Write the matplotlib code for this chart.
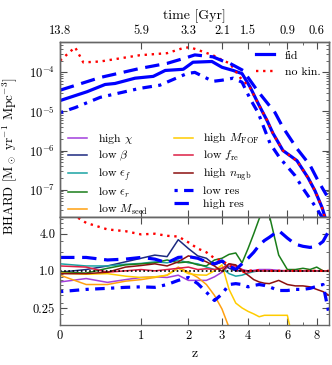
import numpy as np
import matplotlib
matplotlib.use("Agg")
import matplotlib.pyplot as plt
from matplotlib.ticker import FixedLocator, FixedFormatter, NullFormatter

plt.rcParams['font.family'] = 'serif'
plt.rcParams['font.serif'] = ['cmr10']
plt.rcParams['mathtext.fontset'] = 'cm'
plt.rcParams['axes.formatter.use_mathtext'] = True
plt.rcParams['axes.unicode_minus'] = False

# --- top panel: black hole accretion rate density [Msun/yr/Mpc^3] ---
z_fid = [0, 0.26, 0.47, 0.6, 0.9, 1.22, 1.46, 1.87, 2.12, 2.67, 3.0, 3.4, 3.75,
         4.09, 4.45, 4.88, 5.19, 5.74, 6.6, 7.36, 7.87, 8.42, 8.7]
bhard_fid = [1.9e-5, 3.2e-5, 4.9e-5, 5.2e-5, 7.1e-5, 7.9e-5, 1.12e-4, 1.2e-4, 1.82e-4,
             1.9e-4, 1.35e-4, 1.12e-4, 9.3e-5, 4.2e-5, 1.6e-5, 5.9e-6, 2.75e-6, 1.0e-6,
             5.5e-7, 2.0e-7, 9.3e-8, 3.5e-8, 1.8e-8]

z_nokin = [0, 0.137, 0.22, 0.41, 0.98, 1.5, 1.87, 2.04, 2.31, 2.7, 3.04, 3.28, 3.67,
           4.09, 4.45, 4.88, 5.19, 5.74, 6.6, 7.36, 7.87, 8.42, 8.7]
bhard_nokin = [2.0e-4, 4.4e-4, 1.8e-4, 1.9e-4, 2.75e-4, 3.1e-4, 4.2e-4, 4.4e-4, 3.6e-4,
               2.75e-4, 2.0e-4, 1.7e-4, 7.4e-5, 4.0e-5, 1.6e-5, 6.0e-6, 2.7e-6, 1.0e-6,
               5.4e-7, 2.0e-7, 9.3e-8, 3.4e-8, 1.7e-8]

z_lowres = [0, 0.14, 0.41, 0.98, 1.35, 1.96, 2.17, 2.7, 3.0, 3.4, 3.75, 4.09, 4.45,
            5.04, 5.58, 6.47, 7.0, 7.6, 8.1, 8.6]
bhard_lowres = [9.3e-6, 1.26e-5, 2.3e-5, 3.9e-5, 4.7e-5, 9.3e-5, 1.0e-4, 5.9e-5, 6.3e-5,
                7.1e-5, 5.6e-5, 2.1e-5, 9.3e-6, 1.5e-6, 6.3e-7, 2.3e-7, 1.07e-7, 5.2e-8,
                2.9e-8, 1.6e-8]

z_highres = [0, 0.41, 0.98, 1.5, 1.96, 2.17, 2.7, 3.0, 3.28, 3.79, 4.4, 5.3, 5.74, 6.6,
             7.5, 8.1, 8.8]
bhard_highres = [3.5e-5, 7.4e-5, 1.26e-4, 1.7e-4, 2.4e-4, 2.8e-4, 2.5e-4, 2.0e-4, 1.7e-4,
                 1.12e-4, 3.5e-5, 9.3e-6, 3.9e-6, 1.12e-6, 4.2e-7, 1.7e-7, 7.1e-8]

# --- bottom panel: ratio to fid ---
z_ratio = [0, 0.25, 0.5, 0.75, 1.0, 1.25, 1.5, 1.75, 2.0, 2.25, 2.5, 2.75, 3.0, 3.25,
           3.5, 3.75, 4.0, 4.25, 4.5, 4.75, 5.0, 5.5, 6.0, 6.5, 7.0, 7.5, 8.0, 8.5, 9.0]
nan = np.nan
r_high_chi = [0.66, 0.75, 0.65, 0.72, 0.78, 0.8, 0.78, 0.85, 0.7, 0.7, 0.7, 0.8, 0.95, 1.2,
              1.15, 1.05, 1.0, 1.02, 1.05, 1.05, 1.05, 1.02, 1.0, 1.0, 1.0, 1.0, 1.0, 1.0, 1.0]
r_low_beta = [0.95, 1.05, 1.2, 1.4, 1.6, 1.8, 1.7, 3.2, 2.3, 1.75, 1.6, 1.25, 1.4, 1.1,
              1.0, 1.0, 1.0, 1.0, 1.0, 1.0, 1.0, 1.0, 1.0, 1.0, 1.0, 1.0, 1.0, 1.0, 1.0]
r_low_epsf = [1.3, 1.2, 1.2, 1.28, 1.32, 1.4, 1.35, 1.5, 1.35, 1.3, 1.15, 1.05, 1.1, 0.9,
              0.82, 0.85, 0.92, 0.97, 1.0, 1.0, 1.0, 1.0, 1.0, 1.0, 1.0, 1.0, 1.0, 1.0, 1.0]
r_low_epsr = [0.95, 0.92, 1.1, 1.25, 1.3, 1.35, 1.5, 1.35, 1.4, 1.25, 1.2, 1.5, 1.6, 1.85,
              1.95, 1.35, 2.3, 4.0, 7.0, 10.0, 8.0, 1.8, 1.05, 1.05, 1.1, 1.05, 1.15, 1.0, 1.0]
r_low_mseed = [0.85, 0.6, 0.6, 0.68, 0.72, 0.78, 0.85, 1.15, 0.95, 0.78, 0.6, 0.4, 0.24,
               0.12, 0.05, nan, nan, nan, nan, nan, nan, nan, nan, nan, nan, nan, nan, nan, nan]
r_high_mfof = [0.92, 0.88, 0.9, 0.82, 0.78, 0.8, 0.85, 1.1, 0.9, 0.86, 0.85, 1.0, 1.25,
               0.5, 0.3, 0.25, 0.22, 0.2, 0.18, 0.19, 0.19, 0.19, 0.19, 0.05, nan, nan, nan,
               nan, nan]
r_low_fre = [1.2, 1.15, 0.95, 1.0, 1.05, 1.0, 1.05, 1.1, 1.15, 1.05, 1.08, 1.05, 1.1, 1.3,
             1.2, 1.05, 0.95, 1.0, 1.0, 1.0, 1.0, 1.0, 1.0, 1.0, 1.0, 1.0, 1.0, 1.0, 1.0]
r_high_nngb = [0.9, 0.9, 0.95, 1.15, 1.22, 1.3, 1.2, 1.4, 1.75, 1.6, 1.4, 1.2, 0.98, 1.3,
               1.25, 1.0, 0.85, 0.72, 0.66, 0.63, 0.62, 0.7, 0.6, 0.57, 0.57, 0.55, 0.5,
               0.46, 0.4]
r_nokin = [11.0, 6.0, 4.7, 4.4, 3.9, 4.0, 3.7, 3.6, 2.9, 2.3, 2.0, 1.6, 1.45, 1.25, 1.05,
           0.95, 1.0, 1.02, 1.02, 1.0, 1.0, 1.0, 1.0, 1.0, 1.0, 1.0, 1.0, 1.0, 1.0]
r_lowres = [0.46, 0.5, 0.52, 0.54, 0.55, 0.54, 0.6, 0.7, 0.78, 0.62, 0.45, 0.33, 0.42, 0.6,
            0.62, 0.6, 0.55, 0.58, 0.6, 0.58, 0.55, 0.48, 0.48, 0.5, 0.5, 0.52, 0.56, 0.6,
            0.2]
r_highres = [1.65, 1.65, 1.5, 1.55, 1.65, 1.55, 1.35, 1.65, 1.7, 1.6, 1.4, 1.3, 1.45, 1.2,
             1.05, 1.3, 1.6, 2.0, 2.6, 3.1, 3.5, 4.5, 3.4, 2.7, 2.5, 2.4, 2.5, 3.0, 4.5]

z_ticks = [0, 1, 2, 3, 4, 6, 8]
time_labels = ['13.8', '5.9', '3.3', '2.1', '1.5', '0.9', '0.6']

variants = [
    ('high $\\chi$', r_high_chi, '#a23fdc'),
    ('low $\\beta$', r_low_beta, '#1c2a80'),
    ('low $\\epsilon_f$', r_low_epsf, '#1aa3a3'),
    ('low $\\epsilon_r$', r_low_epsr, '#1a7d1a'),
    ('low $M_{\\rm seed}$', r_low_mseed, '#ffa010'),
    ('high $M_{\\rm FOF}$', r_high_mfof, '#ffcc00'),
    ('low $f_{\\rm re}$', r_low_fre, '#dc1f45'),
    ('high $n_{\\rm ngb}$', r_high_nngb, '#8b1010'),
]

fwd = lambda z: np.log10(1 + np.asarray(z, dtype=float))
inv = lambda u: 10 ** np.asarray(u, dtype=float) - 1

fig = plt.figure(figsize=(3.32, 3.65), dpi=100)
gs = fig.add_gridspec(2, 1, height_ratios=[175, 108], hspace=0,
                      left=0.181, right=0.991, top=0.885, bottom=0.11)
ax1 = fig.add_subplot(gs[0])
ax2 = fig.add_subplot(gs[1], sharex=ax1)

lowres_dash = (0, (1.0, 2.0, 3.0, 2.0))
highres_dash = (0, (4.5, 2.4))
thick = 2.3

ax1.plot(z_fid, bhard_fid, color='blue', lw=thick, label='fid')
ax1.plot(z_nokin, bhard_nokin, color='red', lw=1.7, ls=(0, (1, 2)), label='no kin.')
l_low, = ax1.plot(z_lowres, bhard_lowres, color='blue', lw=thick, ls=lowres_dash)
l_high, = ax1.plot(z_highres, bhard_highres, color='blue', lw=thick, ls=highres_dash)

ax1.set_xscale('function', functions=(fwd, inv))
ax1.set_yscale('log')
ax1.set_xlim(0, 9)
ax1.set_ylim(2e-8, 6e-4)
ax1.set_yticks([1e-7, 1e-6, 1e-5, 1e-4])
ax1.yaxis.set_minor_formatter(NullFormatter())

leg1 = ax1.legend(loc='upper right', frameon=False, fontsize=8.5, handlelength=1.6,
                  borderaxespad=0.3, labelspacing=0.55, handletextpad=0.9)
ax1.add_artist(leg1)

vhandles = []
for name, vals, col in variants:
    h, = ax2.plot(z_ratio, vals, color=col, lw=1.1, label=name)
    vhandles.append(h)
ax2.plot(z_ratio, r_nokin, color='red', lw=1.7, ls=(0, (1, 2)))
ax2.plot(z_ratio, r_lowres, color='blue', lw=thick, ls=lowres_dash)
ax2.plot(z_ratio, r_highres, color='blue', lw=thick, ls=highres_dash)
ax2.axhline(1.0, color='black', lw=1.2, ls=(0, (1, 1.5)))

l_low.set_label('low res')
l_high.set_label('high res')
ax1.legend(handles=vhandles + [l_low, l_high], loc='lower left', ncol=2, frameon=False,
           fontsize=8.5, handlelength=1.6, handletextpad=0.9, columnspacing=2.2,
           labelspacing=0.25, bbox_to_anchor=(0.0, -0.047), borderaxespad=0.3)

ax2.set_yscale('log')
ax2.set_ylim(0.133, 7.5)
ax2.yaxis.set_major_locator(FixedLocator([0.25, 1.0, 4.0]))
ax2.yaxis.set_major_formatter(FixedFormatter(['0.25', '1.0', '4.0']))
ax2.yaxis.set_minor_formatter(NullFormatter())
ax2.set_xlim(0, 9)
ax2.xaxis.set_major_locator(FixedLocator(z_ticks))
ax2.xaxis.set_major_formatter(FixedFormatter([str(t) for t in z_ticks]))
ax2.xaxis.set_minor_locator(FixedLocator([5, 7]))
ax2.xaxis.set_minor_formatter(NullFormatter())
ax2.set_xlabel('z', fontsize=10)

axt = ax1.twiny()
axt.set_xscale('function', functions=(fwd, inv))
axt.set_xlim(0, 9)
axt.xaxis.set_major_locator(FixedLocator(z_ticks))
axt.xaxis.set_major_formatter(FixedFormatter(time_labels))
axt.xaxis.set_minor_locator(FixedLocator([5, 7]))
axt.xaxis.set_minor_formatter(NullFormatter())
axt.set_xlabel('time [Gyr]', fontsize=10, labelpad=4)

for ax in (ax1, ax2, axt):
    ax.tick_params(which='both', direction='in', labelsize=9, color='0.3')
    ax.tick_params(which='major', length=5)
    ax.tick_params(which='minor', length=2.5)
    for s in ax.spines.values():
        s.set_color('0.4')
        s.set_linewidth(1.0)
ax1.tick_params(which='both', right=True, top=False, labelbottom=False)
ax2.tick_params(which='both', right=True, top=True)
axt.tick_params(which='both', top=True, bottom=False)

fig.text(10 / 332, 1 - 156 / 365, r'BHARD [M$_\odot$ yr$^{-1}$ Mpc$^{-3}$]',
         rotation=90, ha='center', va='center', fontsize=9.5)

fig.savefig('out.png', dpi=100)
